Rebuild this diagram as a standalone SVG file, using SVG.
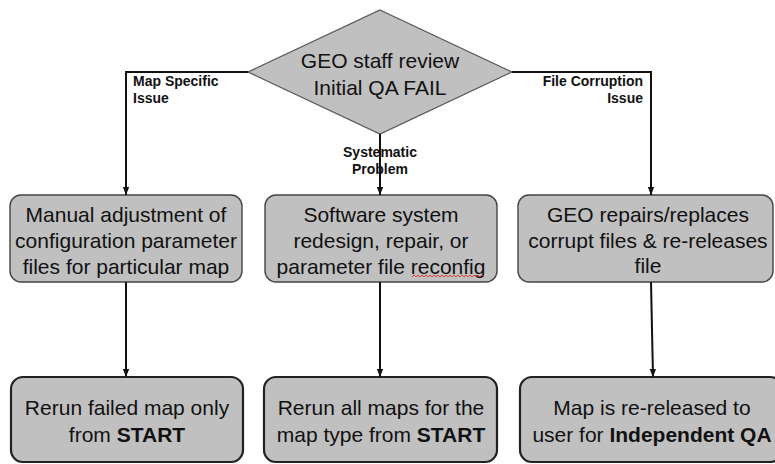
<svg xmlns="http://www.w3.org/2000/svg" width="775" height="464" viewBox="0 0 775 464">
<defs>
<style>
.box1{fill:#c0c0c0;stroke:#444;stroke-width:1.4}
.box2{fill:#c0c0c0;stroke:#222;stroke-width:2.2}
.dia{fill:#c0c0c0;stroke:#555;stroke-width:1.2}
.t{font-family:"Liberation Sans",Arial,sans-serif;font-size:21px;fill:#111;text-anchor:middle}
.b{font-weight:bold}
.lbl{font-family:"Liberation Sans",Arial,sans-serif;font-size:14px;font-weight:bold;fill:#111}
.con{fill:none;stroke:#111;stroke-width:2}
</style>
<marker id="arr" markerUnits="userSpaceOnUse" markerWidth="8" markerHeight="8" viewBox="0 0 8 8" refX="8" refY="4" orient="auto">
<path d="M0,0.8 L8,4 L0,7.2 Z" fill="#111"/>
</marker>
</defs>
<rect x="0" y="0" width="775" height="464" fill="#fff"/>

<g id="decision">
<polygon class="dia" points="380,10 512,72 380,134 248,72"/>
<text class="t" x="380" y="68">GEO staff review</text>
<text class="t" x="380" y="95">Initial QA FAIL</text>
</g>

<g id="manual-adjustment">
<rect class="box1" x="10" y="195" width="232" height="87" rx="11"/>
<text class="t" x="126" y="222">Manual adjustment of</text>
<text class="t" x="126" y="248">configuration parameter</text>
<text class="t" x="126" y="274">files for particular map</text>
</g>

<g id="software-redesign">
<rect class="box1" x="265" y="195" width="232" height="87" rx="11"/>
<text class="t" x="381" y="222">Software system</text>
<text class="t" x="381" y="248">redesign, repair, or</text>
<text class="t" x="381" y="274">parameter file reconfig</text>
<polyline points="412,277 414,275 416,277 418,275 420,277 422,275 424,277 426,275 428,277 430,275 432,277 434,275 436,277 438,275 440,277 442,275 444,277 446,275 448,277 450,275 452,277 454,275 456,277 458,275 460,277 462,275 464,277 466,275 468,277 470,275 472,277 474,275 476,277 478,275 480,277 482,275 484,277" fill="none" stroke="#e03030" stroke-width="0.9"/>
</g>

<g id="geo-repairs">
<rect class="box1" x="518" y="195" width="255" height="87" rx="11"/>
<text class="t" x="648" y="222">GEO repairs/replaces</text>
<text class="t" x="648" y="248">corrupt files &amp; re-releases</text>
<text class="t" x="648" y="273">file</text>
</g>

<g id="rerun-failed">
<rect class="box2" x="11" y="377" width="232" height="85" rx="12"/>
<text class="t" x="127" y="415">Rerun failed map only</text>
<text class="t" x="127" y="442">from <tspan class="b">START</tspan></text>
</g>

<g id="rerun-all">
<rect class="box2" x="264" y="377" width="233" height="85" rx="12"/>
<text class="t" x="381" y="415">Rerun all maps for the</text>
<text class="t" x="381" y="442">map type from <tspan class="b">START</tspan></text>
</g>

<g id="re-released">
<rect class="box2" x="520" y="377" width="262" height="85" rx="12"/>
<text class="t" x="652" y="415">Map is re-released to</text>
<text class="t" x="652" y="442">user for <tspan class="b">Independent QA</tspan></text>
</g>

<g id="labels">
<text class="lbl" x="133" y="86">Map Specific</text>
<text class="lbl" x="133" y="103">Issue</text>
<text class="lbl" x="380" y="157" text-anchor="middle">Systematic</text>
<text class="lbl" x="380" y="174" text-anchor="middle">Problem</text>
<text class="lbl" x="643" y="86" text-anchor="end">File Corruption</text>
<text class="lbl" x="643" y="103" text-anchor="end">Issue</text>
</g>

<g id="connectors">
<path class="con" d="M248,72 H126 V195" marker-end="url(#arr)"/>
<path class="con" d="M380,134 V195" marker-end="url(#arr)"/>
<path class="con" d="M512,72 H651 V195" marker-end="url(#arr)"/>
<path class="con" d="M126,282 V377" marker-end="url(#arr)"/>
<path class="con" d="M380,282 V377" marker-end="url(#arr)"/>
<path class="con" d="M651,282 L653,377" marker-end="url(#arr)"/>
</g>
</svg>
